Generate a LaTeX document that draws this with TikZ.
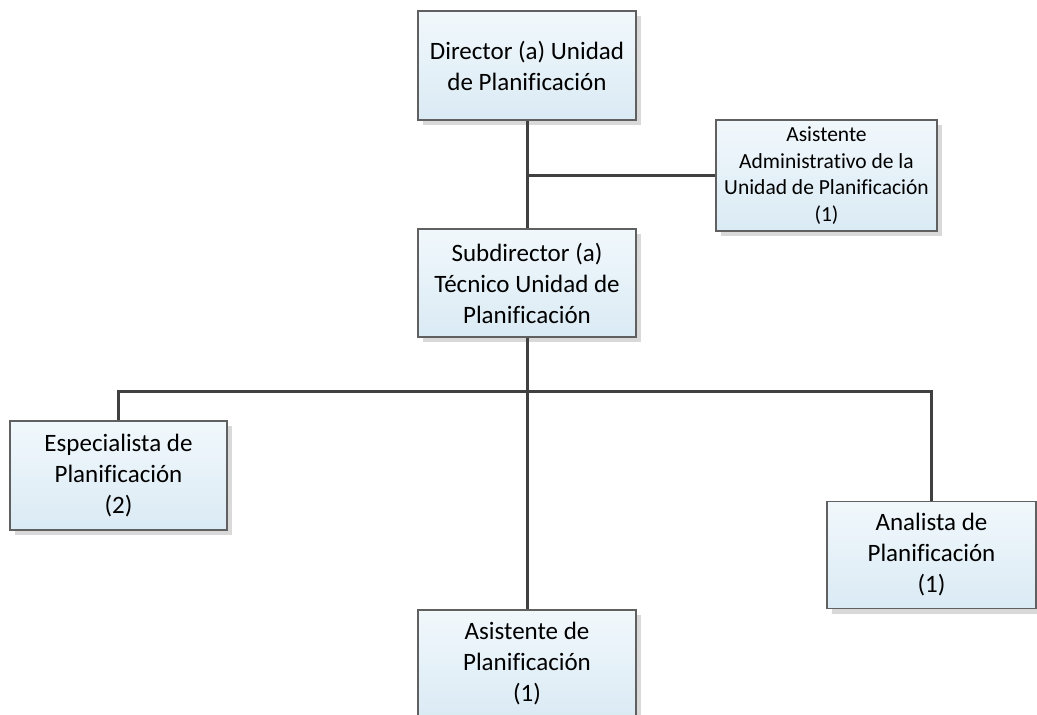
\documentclass[tikz,border=0pt]{standalone}
\usepackage{fontspec}
\setmainfont[Ligatures={NoCommon}]{Carlito}
\usetikzlibrary{positioning, shadows}

\definecolor{boxtop}{HTML}{F1F8FC}
\definecolor{boxbot}{HTML}{DAEAF4}
\definecolor{boxline}{HTML}{606060}
\definecolor{linkcol}{HTML}{404040}

\begin{document}
\begin{tikzpicture}[x=1pt, y=-1pt, node distance=217.5pt]
        \tikzstyle{unit}=[draw=boxline, line width=1.2pt, rectangle, align=center, top color=boxtop, bottom color=boxbot, minimum width=218pt, minimum height=109pt, inner sep=0pt, font=\fontsize{25}{31}\selectfont, drop shadow={shadow xshift=5pt, shadow yshift=-5pt, fill=black!15, opacity=1}];
        \tikzstyle{small}=[font=\fontsize{21.5}{26.5}\selectfont];
        \tikzstyle{link}=[draw=linkcol, line width=3pt];
        \useasboundingbox (0,0) rectangle (1037,715);

        \node[unit] (dir) at (527,65.5) {Director (a) Unidad\\de Planificación};
        \node[unit, below of=dir, minimum height=108pt] (sub) {Subdirector (a)\\Técnico Unidad de\\Planificación};
        \node[unit, small, right of=dir, xshift=82pt, yshift=-110pt, minimum width=221pt, minimum height=111pt] (adm) {Asistente\\Administrativo de la\\Unidad de Planificación\\(1)};
        \node[unit, below of=sub, xshift=-408.5pt, yshift=25pt, minimum width=217pt] (esp) {Especialista de\\Planificación\\(2)};
        \node[unit, below of=sub, xshift=404.5pt, yshift=-54.5pt, minimum width=209pt, minimum height=107pt] (ana) {Analista de\\Planificación\\(1)};
        \node[unit, below of=sub, yshift=-163.5pt, minimum height=108pt] (asp) {Asistente de\\Planificación\\(1)};
        \coordinate (bus) at (527,391);

        \draw[link] (dir) -- (sub);
        \draw[link] (adm.west) -- (adm.west -| dir.south);
        \draw[link] (sub) -- (asp);
        \draw[link] (esp.north) |- (bus) -| (ana.north);
      \end{tikzpicture}
\end{document}
